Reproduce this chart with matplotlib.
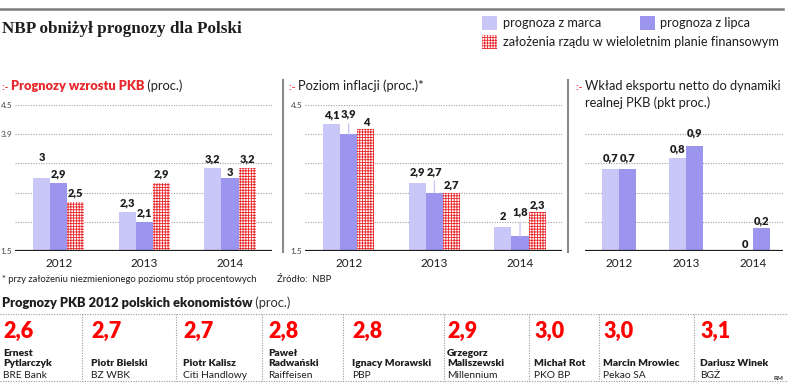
import matplotlib
matplotlib.use('Agg')
import matplotlib.pyplot as plt
from matplotlib.patches import Rectangle

plt.rcParams['font.family'] = ['Lato', 'DejaVu Sans']
plt.rcParams['hatch.linewidth'] = 0.6

# dane
years = ['2012', '2013', '2014']
pkb_marzec = [3.0, 2.3, 3.2]
pkb_lipiec = [2.9, 2.1, 3.0]
pkb_rzad = [2.5, 2.9, 3.2]
infl_marzec = [4.1, 2.9, 2.0]
infl_lipiec = [3.9, 2.7, 1.8]
infl_rzad = [4.0, 2.7, 2.3]
eksp_marzec = [0.7, 0.8, 0.0]
eksp_lipiec = [0.7, 0.9, 0.2]

ekonomisci = ['Ernest\nPytlarczyk', 'Piotr Bielski', 'Piotr Kalisz', 'Paweł\nRadwański',
              'Ignacy Morawski', 'Grzegorz\nMaliszewski', 'Michał Rot', 'Marcin Mrowiec',
              'Dariusz Winek']
banki = ['BRE Bank', 'BZ WBK', 'Citi Handlowy', 'Raiffeisen', 'PBP', 'Millennium',
         'PKO BP', 'Pekao SA', 'BGŻ']
prognozy_2012 = [2.6, 2.7, 2.7, 2.8, 2.8, 2.9, 3.0, 3.0, 3.1]

# kolory
C_MARZEC = '#c9c7f7'
C_LIPIEC = '#9c95ee'
C_RZAD = '#e8282d'
C_TXT = '#1e1e1e'
C_GRID = '#a0a0a0'

W, H = 788, 383
fig = plt.figure(figsize=(W / 100, H / 100), dpi=100)


def box(x0, y0, x1, y1):
    return [x0 / W, 1 - y1 / H, (x1 - x0) / W, (y1 - y0) / H]


def fmt(v):
    return ('%g' % v).replace('.', ',')


# tlo w pikselach
bg = fig.add_axes([0, 0, 1, 1])
bg.set_xlim(0, W)
bg.set_ylim(H, 0)
bg.axis('off')


def chain(x, y, parts):
    t = bg.text(x, y, parts[0][0], color=parts[0][1], fontweight=parts[0][2],
                fontsize=parts[0][3], va='center')
    for s, c, w, fs in parts[1:]:
        t = bg.annotate(s, xy=(1, 0), xycoords=t, va='bottom', ha='left',
                        color=c, fontweight=w, fontsize=fs)
    return t


# naglowek
bg.plot([0, 783], [9, 9], color='#7a7a7a', lw=1.8)
bg.text(2, 29, 'NBP obniżył prognozy dla Polski', family='Liberation Serif',
        fontweight='bold', fontsize=12.3, color=C_TXT, va='center')

# legenda
bg.add_patch(Rectangle((482, 16), 15, 14, color=C_MARZEC, lw=0))
bg.text(503, 23, 'prognoza z marca', fontsize=9.2, color=C_TXT, va='center')
bg.add_patch(Rectangle((640, 16), 15, 14, color=C_LIPIEC, lw=0))
bg.text(660, 23, 'prognoza z lipca', fontsize=9.2, color=C_TXT, va='center')
bg.add_patch(Rectangle((482, 35), 15, 14, facecolor='white', edgecolor=C_RZAD,
                       hatch='++++++', lw=0))
bg.text(503, 42, 'założenia rządu w wieloletnim planie finansowym', fontsize=9.2,
        color=C_TXT, va='center')

# tytuly paneli
chain(2, 88, [(':- ', C_RZAD, 'bold', 7.5), ('Prognozy wzrostu PKB', C_RZAD, 'heavy', 9.3),
              (' (proc.)', C_TXT, 'normal', 9.3)])
chain(289, 88, [(':- ', C_RZAD, 'bold', 7.5), ('Poziom inflacji (proc.)*', C_TXT, 'normal', 9.3)])
chain(576, 88, [(':- ', C_RZAD, 'bold', 7.5), ('Wkład eksportu netto do dynamiki', C_TXT, 'normal', 9.3)])
bg.text(585, 103, 'realnej PKB (pkt proc.)', fontsize=9.3, color=C_TXT, va='center')

# separatory paneli
for xs in (283, 568):
    bg.plot([xs, xs], [80, 252], color='#8a8a8a', lw=1.5)


def panel(rect, series, styles, ylim, grid, yticks, width, xlim, lifts, leaders):
    ax = fig.add_axes(box(*rect))
    ax.patch.set_visible(False)
    n = len(series)
    for g in grid:
        ax.axhline(g, color=C_GRID, lw=0.8, ls=(0, (1, 1.3)), zorder=0)
    ax.axhline(ylim[0], color=C_TXT, lw=1.6, zorder=3)
    for i, (vals, st) in enumerate(zip(series, styles)):
        xs = [k + (i - (n - 1) / 2) * width for k in range(len(vals))]
        ax.bar(xs, [v - ylim[0] for v in vals], width, bottom=ylim[0], zorder=2, **st)
        for k, (x, v) in enumerate(zip(xs, vals)):
            lift = lifts.get((i, k), 9) * 0.72
            ap = None
            if (i, k) in leaders:
                ap = dict(arrowstyle='-', color=C_MARZEC, lw=1.0, shrinkA=1, shrinkB=0)
            ax.annotate(fmt(v), xy=(x, v), xytext=(0, lift), textcoords='offset points',
                        ha='center', va='center', fontsize=8, fontweight='heavy',
                        color=C_TXT, arrowprops=ap, annotation_clip=False)
    ax.set_xlim(*xlim)
    ax.set_ylim(*ylim)
    ax.set_xticks(range(len(years)), years)
    ax.set_yticks(yticks, [str(t) for t in yticks])
    ax.tick_params(axis='x', length=0, pad=5, labelsize=8.5, labelcolor=C_TXT)
    ax.tick_params(axis='y', length=0, pad=2, labelsize=6, labelcolor='#444444')
    for s in ax.spines.values():
        s.set_visible(False)
    return ax


st_m = dict(color=C_MARZEC, lw=0)
st_l = dict(color=C_LIPIEC, lw=0)
st_r = dict(facecolor='white', edgecolor=C_RZAD, hatch='++++++', lw=0)

panel((15, 105, 272, 251), [pkb_marzec, pkb_lipiec, pkb_rzad], [st_m, st_l, st_r],
      (1.5, 4.5), [2.1, 2.7, 3.3, 3.9, 4.5], [1.5, 3.9, 4.5], 0.2, (-0.51, 2.49),
      {(0, 0): 21, (1, 2): 6}, [])

panel((305, 105, 562, 251), [infl_marzec, infl_lipiec, infl_rzad], [st_m, st_l, st_r],
      (1.5, 4.5), [2.1, 2.7, 3.3, 3.9, 4.5], [1.5, 4.5], 0.2, (-0.51, 2.49),
      {(0, 0): 10, (1, 0): 20, (2, 0): 7, (0, 1): 11, (1, 1): 21, (2, 1): 8,
       (0, 2): 10, (1, 2): 24, (2, 2): 7},
      [(1, 0), (1, 1), (1, 2)])

panel((585, 105, 783, 251), [eksp_marzec, eksp_lipiec], [st_m, st_l],
      (0, 1.25), [0.25, 0.5, 0.75, 1.0], [], 0.25, (-0.507, 2.448),
      {(0, 0): 11, (1, 0): 11, (1, 1): 13, (0, 2): 7, (1, 2): 7}, [])

# przypisy
bg.text(2, 279, '* przy założeniu niezmienionego poziomu stóp procentowych', fontsize=6.8,
        color=C_TXT, va='center')
bg.text(277, 279, 'Źródło:  NBP', fontsize=6.8, color=C_TXT, va='center')

# prognozy ekonomistow
chain(2, 303, [('Prognozy PKB 2012 polskich ekonomistów', C_TXT, 'heavy', 9.3),
               (' (proc.)', '#333333', 'normal', 9.3)])
bg.plot([0, W], [314, 314], color='#999999', lw=0.8, ls=(0, (1, 1.3)))
bg.plot([0, W], [381, 381], color='#999999', lw=0.8, ls=(0, (1, 1.3)))
for xs in [82, 176, 262, 343, 444, 529, 599, 694]:
    bg.plot([xs, xs], [314, 381], color='#999999', lw=0.8, ls=(0, (1, 1.3)))

text_x = [3, 91, 183, 268, 352, 447, 534, 603, 700]
for x, v, name, bank in zip(text_x, prognozy_2012, ekonomisci, banki):
    bg.text(x, 331, f'{v:.1f}'.replace('.', ','), fontsize=15.5, fontweight='heavy',
            color='#ff0000', va='center')
    bg.text(x, 368, name, fontsize=7.4, fontweight='heavy', color=C_TXT, va='bottom',
            linespacing=1.1)
    bg.text(x, 375, bank, fontsize=7.4, color=C_TXT, va='center')

bg.text(774, 378, 'RM', fontsize=4.5, fontweight='bold', color='#333333', va='center')

fig.savefig('out.png', dpi=100)
